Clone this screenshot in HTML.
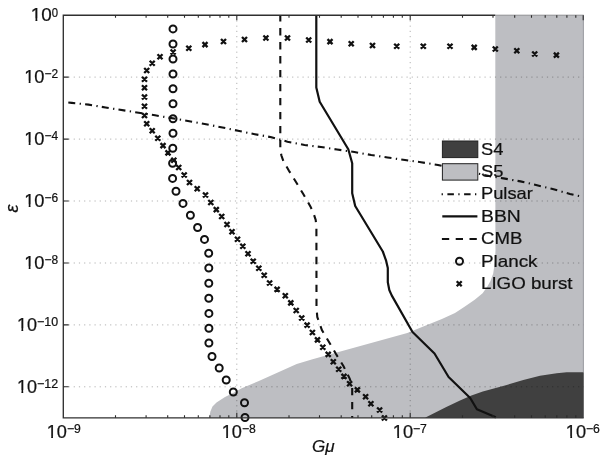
<!DOCTYPE html><html><head><meta charset="utf-8"><style>html,body{margin:0;padding:0;background:#fff;}svg{display:block;}text{font-family:"Liberation Sans",Arial,Helvetica,sans-serif;fill:#111;stroke:#111;stroke-width:0.22px;}</style></head><body>
<svg width="600" height="456" viewBox="0 0 600 456">
<rect width="600" height="456" fill="#fff"/>
<polygon points="495.3,15.2 583.7,15.2 583.7,417.8 209.2,417.8 210.4,411.5 212.5,406.5 216.5,402.5 225.0,397.0 235.0,391.9 241.7,388.2 258.3,381.2 275.0,373.8 296.7,364.0 311.7,359.4 325.0,355.8 407.3,332.9 423.3,326.5 441.9,319.0 455.0,313.0 464.9,306.5 474.7,299.8 482.6,293.3 487.2,286.7 490.5,281.0 493.2,273.5 494.9,262.0 495.5,250.0 495.4,240.0" fill="#bdbec2"/>
<polygon points="425.0,417.8 446.3,407.0 460.0,400.4 471.4,395.5 482.8,391.6 506.7,385.0 523.3,380.0 540.0,375.8 556.7,373.3 566.7,372.3 583.7,372.3 583.7,417.8" fill="#404040"/>
<line x1="236.8" y1="15.2" x2="236.8" y2="417.8" stroke="#000" stroke-opacity="0.3" stroke-width="1" stroke-dasharray="1.2 4"/>
<line x1="410.2" y1="15.2" x2="410.2" y2="417.8" stroke="#000" stroke-opacity="0.3" stroke-width="1" stroke-dasharray="1.2 4"/>
<line x1="63.3" y1="77.1" x2="583.7" y2="77.1" stroke="#000" stroke-opacity="0.3" stroke-width="1" stroke-dasharray="1.2 4"/>
<line x1="63.3" y1="139.1" x2="583.7" y2="139.1" stroke="#000" stroke-opacity="0.3" stroke-width="1" stroke-dasharray="1.2 4"/>
<line x1="63.3" y1="201.0" x2="583.7" y2="201.0" stroke="#000" stroke-opacity="0.3" stroke-width="1" stroke-dasharray="1.2 4"/>
<line x1="63.3" y1="263.0" x2="583.7" y2="263.0" stroke="#000" stroke-opacity="0.3" stroke-width="1" stroke-dasharray="1.2 4"/>
<line x1="63.3" y1="324.9" x2="583.7" y2="324.9" stroke="#000" stroke-opacity="0.3" stroke-width="1" stroke-dasharray="1.2 4"/>
<line x1="63.3" y1="386.8" x2="583.7" y2="386.8" stroke="#000" stroke-opacity="0.3" stroke-width="1" stroke-dasharray="1.2 4"/>
<polyline points="68.3,102.5 71.8,102.9 88.6,104.6 105.5,107.5 155.0,115.3 184.5,120.3 206.0,124.2 222.5,127.5 238.0,130.8 254.8,134.2 271.5,137.2 287.5,141.7 304.5,145.0 321.0,147.0 337.0,149.5 354.4,152.0 371.2,155.0 387.5,157.5 405.0,160.0 421.0,162.2 438.0,165.0 489.0,176.0 503.5,178.4 520.5,181.4 536.0,185.0 552.7,189.0 570.0,194.0 583.0,197.0" fill="none" stroke="#111" stroke-width="2.1" stroke-dasharray="7 4.4 1.3 4.2"/>
<polyline points="316.3,15.2 316.3,87.5 319.7,101.7 348.3,149.2 352.2,163.3 352.2,193.3 355.2,206.0 382.8,251.5 386.0,260.3 387.8,268.0 387.8,282.2 389.3,290.0 391.7,295.4 412.5,332.0 434.5,353.5 448.6,377.0 470.2,398.0 476.9,409.2 494.6,416.8 495.8,417.4" fill="none" stroke="#111" stroke-width="2.2" stroke-linejoin="round"/>
<polyline points="280.3,15.2 280.3,150.0 281.4,155.5 283.5,161.4 288.8,170.5 296.3,182.5 303.4,194.3 310.4,206.4 313.6,213.5 315.7,220.0 316.4,227.0 316.5,308.0 317.3,317.0 321.9,330.1 329.3,342.5 336.0,354.0 343.4,366.0 349.8,378.9 352.2,386.5 352.2,417.8" fill="none" stroke="#111" stroke-width="2.1" stroke-dasharray="7.35 6.63" stroke-dashoffset="1.1"/>
<circle cx="173.0" cy="28.9" r="3.5" fill="none" stroke="#111" stroke-width="2"/>
<circle cx="173.0" cy="44.0" r="3.5" fill="none" stroke="#111" stroke-width="2"/>
<circle cx="173.0" cy="59.0" r="3.5" fill="none" stroke="#111" stroke-width="2"/>
<circle cx="173.0" cy="74.0" r="3.5" fill="none" stroke="#111" stroke-width="2"/>
<circle cx="173.0" cy="88.7" r="3.5" fill="none" stroke="#111" stroke-width="2"/>
<circle cx="173.0" cy="103.7" r="3.5" fill="none" stroke="#111" stroke-width="2"/>
<circle cx="173.0" cy="118.7" r="3.5" fill="none" stroke="#111" stroke-width="2"/>
<circle cx="173.0" cy="133.3" r="3.5" fill="none" stroke="#111" stroke-width="2"/>
<circle cx="172.8" cy="148.2" r="3.5" fill="none" stroke="#111" stroke-width="2"/>
<circle cx="172.6" cy="163.3" r="3.5" fill="none" stroke="#111" stroke-width="2"/>
<circle cx="172.6" cy="178.4" r="3.5" fill="none" stroke="#111" stroke-width="2"/>
<circle cx="176.0" cy="191.3" r="3.5" fill="none" stroke="#111" stroke-width="2"/>
<circle cx="183.0" cy="203.4" r="3.5" fill="none" stroke="#111" stroke-width="2"/>
<circle cx="190.4" cy="215.3" r="3.5" fill="none" stroke="#111" stroke-width="2"/>
<circle cx="197.6" cy="227.5" r="3.5" fill="none" stroke="#111" stroke-width="2"/>
<circle cx="204.5" cy="239.4" r="3.5" fill="none" stroke="#111" stroke-width="2"/>
<circle cx="208.7" cy="253.2" r="3.5" fill="none" stroke="#111" stroke-width="2"/>
<circle cx="208.8" cy="268.0" r="3.5" fill="none" stroke="#111" stroke-width="2"/>
<circle cx="208.8" cy="283.3" r="3.5" fill="none" stroke="#111" stroke-width="2"/>
<circle cx="208.8" cy="298.3" r="3.5" fill="none" stroke="#111" stroke-width="2"/>
<circle cx="208.9" cy="313.4" r="3.5" fill="none" stroke="#111" stroke-width="2"/>
<circle cx="208.9" cy="328.3" r="3.5" fill="none" stroke="#111" stroke-width="2"/>
<circle cx="208.9" cy="343.0" r="3.5" fill="none" stroke="#111" stroke-width="2"/>
<circle cx="212.0" cy="356.5" r="3.5" fill="none" stroke="#111" stroke-width="2"/>
<circle cx="219.2" cy="368.0" r="3.5" fill="none" stroke="#111" stroke-width="2"/>
<circle cx="226.2" cy="380.0" r="3.5" fill="none" stroke="#111" stroke-width="2"/>
<circle cx="233.3" cy="392.0" r="3.5" fill="none" stroke="#111" stroke-width="2"/>
<circle cx="244.5" cy="402.8" r="3.5" fill="none" stroke="#111" stroke-width="2"/>
<circle cx="245.0" cy="417.5" r="3.5" fill="none" stroke="#111" stroke-width="2"/>
<path d="M553.9 52.6L558.9 57.6M553.9 57.6L558.9 52.6M532.2 51.5L537.2 56.5M532.2 56.5L537.2 51.5M514.3 48.2L519.3 53.2M514.3 53.2L519.3 48.2M492.8 46.5L497.8 51.5M492.8 51.5L497.8 46.5M471.7 44.9L476.7 49.9M471.7 49.9L476.7 44.9M447.5 43.7L452.5 48.7M447.5 48.7L452.5 43.7M420.8 43.7L425.8 48.7M420.8 48.7L425.8 43.7M394.2 43.7L399.2 48.7M394.2 48.7L399.2 43.7M370.0 43.0L375.0 48.0M370.0 48.0L375.0 43.0M348.7 41.2L353.7 46.2M348.7 46.2L353.7 41.2M327.5 39.1L332.5 44.1M327.5 44.1L332.5 39.1M306.2 37.5L311.2 42.5M306.2 42.5L311.2 37.5M285.0 35.5L290.0 40.5M285.0 40.5L290.0 35.5M263.4 35.5L268.4 40.5M263.4 40.5L268.4 35.5M242.0 37.0L247.0 42.0M242.0 42.0L247.0 37.0M221.0 39.0L226.0 44.0M221.0 44.0L226.0 39.0M202.5 42.1L207.5 47.1M202.5 47.1L207.5 42.1M186.3 45.7L191.3 50.7M186.3 50.7L191.3 45.7M170.6 49.5L175.6 54.5M170.6 54.5L175.6 49.5M157.5 54.2L162.5 59.2M157.5 59.2L162.5 54.2M149.7 60.7L154.7 65.7M149.7 65.7L154.7 60.7M144.2 68.0L149.2 73.0M144.2 73.0L149.2 68.0M142.0 76.7L147.0 81.7M142.0 81.7L147.0 76.7M142.0 85.2L147.0 90.2M142.0 90.2L147.0 85.2M142.0 94.5L147.0 99.5M142.0 99.5L147.0 94.5M142.0 103.7L147.0 108.7M142.0 108.7L147.0 103.7M142.0 113.0L147.0 118.0M142.0 118.0L147.0 113.0M144.2 121.2L149.2 126.2M144.2 126.2L149.2 121.2M149.7 128.3L154.7 133.3M149.7 133.3L154.7 128.3M155.3 135.8L160.3 140.8M155.3 140.8L160.3 135.8M160.5 143.1L165.5 148.1M160.5 148.1L165.5 143.1M165.5 150.4L170.5 155.4M165.5 155.4L170.5 150.4M171.3 157.8L176.3 162.8M171.3 162.8L176.3 157.8M176.2 165.0L181.2 170.0M176.2 170.0L181.2 165.0M181.7 172.5L186.7 177.5M181.7 177.5L186.7 172.5M187.0 180.0L192.0 185.0M187.0 185.0L192.0 180.0M194.7 186.2L199.7 191.2M194.7 191.2L199.7 186.2M203.0 192.5L208.0 197.5M203.0 197.5L208.0 192.5M208.3 200.0L213.3 205.0M208.3 205.0L213.3 200.0M213.8 207.1L218.8 212.1M213.8 212.1L218.8 207.1M219.2 214.0L224.2 219.0M219.2 219.0L224.2 214.0M224.5 222.0L229.5 227.0M224.5 227.0L229.5 222.0M229.5 229.2L234.5 234.2M229.5 234.2L234.5 229.2M235.0 236.7L240.0 241.7M235.0 241.7L240.0 236.7M240.3 243.8L245.3 248.8M240.3 248.8L245.3 243.8M245.5 251.2L250.5 256.2M245.5 256.2L250.5 251.2M250.7 258.7L255.7 263.7M250.7 263.7L255.7 258.7M256.3 265.8L261.3 270.8M256.3 270.8L261.3 265.8M261.7 272.8L266.7 277.8M261.7 277.8L266.7 272.8M267.1 280.5L272.1 285.5M267.1 285.5L272.1 280.5M274.6 286.9L279.6 291.9M274.6 291.9L279.6 286.9M282.8 293.3L287.8 298.3M282.8 298.3L287.8 293.3M288.3 300.4L293.3 305.4M288.3 305.4L293.3 300.4M293.7 308.0L298.7 313.0M293.7 313.0L298.7 308.0M299.2 315.5L304.2 320.5M299.2 320.5L304.2 315.5M304.6 322.6L309.6 327.6M304.6 327.6L309.6 322.6M309.9 330.0L314.9 335.0M309.9 335.0L314.9 330.0M315.0 337.4L320.0 342.4M315.0 342.4L320.0 337.4M320.3 344.7L325.3 349.7M320.3 349.7L325.3 344.7M325.7 351.9L330.7 356.9M325.7 356.9L330.7 351.9M330.8 359.2L335.8 364.2M330.8 364.2L335.8 359.2M336.2 366.7L341.2 371.7M336.2 371.7L341.2 366.7M341.5 373.9L346.5 378.9M341.5 378.9L346.5 373.9M347.1 381.3L352.1 386.3M347.1 386.3L352.1 381.3M354.9 387.4L359.9 392.4M354.9 392.4L359.9 387.4M363.1 394.2L368.1 399.2M363.1 399.2L368.1 394.2M368.4 401.3L373.4 406.3M368.4 406.3L373.4 401.3M377.1 407.5L382.1 412.5M377.1 412.5L382.1 407.5M381.9 415.5L386.9 420.5M381.9 420.5L386.9 415.5" stroke="#111" stroke-width="2.3" fill="none"/>
<path d="M495.3 15.2H63.3V417.8H583.7" stroke="#303030" stroke-width="1.35" fill="none"/>
<line x1="495.3" y1="15.2" x2="583.7" y2="15.2" stroke="#8d8e91" stroke-width="1"/>
<line x1="583.4" y1="15.2" x2="583.4" y2="372.3" stroke="#909195" stroke-width="0.8"/>
<path d="M115.5 417.8v-2.6M115.5 15.2v2.6M146.1 417.8v-2.6M146.1 15.2v2.6M167.7 417.8v-2.6M167.7 15.2v2.6M184.5 417.8v-2.6M184.5 15.2v2.6M198.3 417.8v-2.6M198.3 15.2v2.6M209.9 417.8v-2.6M209.9 15.2v2.6M220.0 417.8v-2.6M220.0 15.2v2.6M228.8 417.8v-2.6M228.8 15.2v2.6M236.8 417.8v-5M236.8 15.2v5M289.0 417.8v-2.6M289.0 15.2v2.6M319.5 417.8v-2.6M319.5 15.2v2.6M341.2 417.8v-2.6M341.2 15.2v2.6M358.0 417.8v-2.6M358.0 15.2v2.6M371.7 417.8v-2.6M371.7 15.2v2.6M383.4 417.8v-2.6M383.4 15.2v2.6M393.4 417.8v-2.6M393.4 15.2v2.6M402.3 417.8v-2.6M402.3 15.2v2.6M410.2 417.8v-5M410.2 15.2v5M462.5 417.8v-2.6M462.5 15.2v2.6M493.0 417.8v-2.6M493.0 15.2v2.6M514.7 417.8v-2.6M514.7 15.2v2.6M531.5 417.8v-2.6M531.5 15.2v2.6M545.2 417.8v-2.6M545.2 15.2v2.6M556.8 417.8v-2.6M556.8 15.2v2.6M566.9 417.8v-2.6M566.9 15.2v2.6M575.8 417.8v-2.6M575.8 15.2v2.6M583.2 15.2v5M63.3 386.8h5.4M63.3 324.9h5.4M63.3 263.0h5.4M63.3 201.0h5.4M63.3 139.1h5.4M63.3 77.1h5.4" stroke="#2a2a2a" stroke-width="1.1" fill="none"/>
<rect x="442.4" y="141" width="35.4" height="16.6" fill="#404040" stroke="#222" stroke-width="1"/>
<rect x="442.4" y="163.7" width="35.4" height="16.4" fill="#bdbec2" stroke="#222" stroke-width="1"/>
<line x1="441.6" y1="194.2" x2="477.4" y2="194.2" stroke="#111" stroke-width="2.1" stroke-dasharray="1.3 4.5 6.5 4.4" />
<line x1="442.3" y1="216.3" x2="477.4" y2="216.3" stroke="#111" stroke-width="2.2"/>
<line x1="441.9" y1="239" x2="477.4" y2="239" stroke="#111" stroke-width="2.1" stroke-dasharray="7.3 6.5"/>
<circle cx="459.5" cy="261.3" r="3.5" fill="none" stroke="#111" stroke-width="2"/>
<path d="M456.7 281.3l5 5M456.7 286.3l5 -5" stroke="#111" stroke-width="2.3"/>
<text x="481" y="155.0" font-size="17" textLength="22.4" lengthAdjust="spacingAndGlyphs">S4</text>
<text x="481" y="177.2" font-size="17" textLength="22.4" lengthAdjust="spacingAndGlyphs">S5</text>
<text x="481" y="199.0" font-size="17" textLength="51.8" lengthAdjust="spacingAndGlyphs">Pulsar</text>
<text x="481" y="221.6" font-size="17" textLength="39.8" lengthAdjust="spacingAndGlyphs">BBN</text>
<text x="481" y="243.8" font-size="17" textLength="41.3" lengthAdjust="spacingAndGlyphs">CMB</text>
<text x="481" y="266.7" font-size="17" textLength="56.5" lengthAdjust="spacingAndGlyphs">Planck</text>
<text x="481" y="288.5" font-size="17" textLength="91.5" lengthAdjust="spacingAndGlyphs">LIGO burst</text>
<text x="30.8" y="21.0" font-size="18" textLength="21.0" lengthAdjust="spacingAndGlyphs">10</text>
<path d="M31.63 18.60H35.46V22.30H31.63ZM37.33 18.60H41.22V22.30H37.33Z" fill="#fff"/>
<text x="51.8" y="16.5" font-size="12.5" textLength="6.3" lengthAdjust="spacingAndGlyphs">0</text>
<text x="24.2" y="83.0" font-size="18" textLength="20.3" lengthAdjust="spacingAndGlyphs">10</text>
<path d="M25.00 80.64H28.70V84.34H25.00ZM30.51 80.64H34.27V84.34H30.51Z" fill="#fff"/>
<text x="44.5" y="78.4" font-size="12.5" textLength="13.6" lengthAdjust="spacingAndGlyphs">−2</text>
<text x="24.2" y="145.0" font-size="18" textLength="20.3" lengthAdjust="spacingAndGlyphs">10</text>
<path d="M25.00 142.58H28.70V146.28H25.00ZM30.51 142.58H34.27V146.28H30.51Z" fill="#fff"/>
<text x="44.5" y="140.4" font-size="12.5" textLength="13.6" lengthAdjust="spacingAndGlyphs">−4</text>
<text x="24.2" y="206.9" font-size="18" textLength="20.3" lengthAdjust="spacingAndGlyphs">10</text>
<path d="M25.00 204.52H28.70V208.22H25.00ZM30.51 204.52H34.27V208.22H30.51Z" fill="#fff"/>
<text x="44.5" y="202.3" font-size="12.5" textLength="13.6" lengthAdjust="spacingAndGlyphs">−6</text>
<text x="24.2" y="268.9" font-size="18" textLength="20.3" lengthAdjust="spacingAndGlyphs">10</text>
<path d="M25.00 266.45H28.70V270.15H25.00ZM30.51 266.45H34.27V270.15H30.51Z" fill="#fff"/>
<text x="44.5" y="264.3" font-size="12.5" textLength="13.6" lengthAdjust="spacingAndGlyphs">−8</text>
<text x="17.0" y="330.8" font-size="18" textLength="20.0" lengthAdjust="spacingAndGlyphs">10</text>
<path d="M17.79 328.39H21.43V332.09H17.79ZM23.22 328.39H26.92V332.09H23.22Z" fill="#fff"/>
<text x="37.1" y="326.2" font-size="12.5" textLength="21.1" lengthAdjust="spacingAndGlyphs">−10</text>
<text x="17.0" y="392.7" font-size="18" textLength="20.0" lengthAdjust="spacingAndGlyphs">10</text>
<path d="M17.79 390.33H21.43V394.03H17.79ZM23.22 390.33H26.92V394.03H23.22Z" fill="#fff"/>
<text x="37.1" y="388.1" font-size="12.5" textLength="21.1" lengthAdjust="spacingAndGlyphs">−12</text>
<text x="46.7" y="438.4" font-size="18" textLength="20.2" lengthAdjust="spacingAndGlyphs">10</text>
<path d="M47.50 436.00H51.18V439.70H47.50ZM52.98 436.00H56.72V439.70H52.98Z" fill="#fff"/>
<text x="66.9" y="433.0" font-size="12.5" textLength="13.9" lengthAdjust="spacingAndGlyphs">−9</text>
<text x="221.7" y="438.4" font-size="18" textLength="20.2" lengthAdjust="spacingAndGlyphs">10</text>
<path d="M222.50 436.00H226.18V439.70H222.50ZM227.98 436.00H231.72V439.70H227.98Z" fill="#fff"/>
<text x="241.9" y="433.0" font-size="12.5" textLength="13.9" lengthAdjust="spacingAndGlyphs">−8</text>
<text x="392.8" y="438.4" font-size="18" textLength="20.2" lengthAdjust="spacingAndGlyphs">10</text>
<path d="M393.60 436.00H397.28V439.70H393.60ZM399.08 436.00H402.82V439.70H399.08Z" fill="#fff"/>
<text x="413.0" y="433.0" font-size="12.5" textLength="13.9" lengthAdjust="spacingAndGlyphs">−7</text>
<text x="565.8" y="438.4" font-size="18" textLength="20.2" lengthAdjust="spacingAndGlyphs">10</text>
<path d="M566.60 436.00H570.28V439.70H566.60ZM572.08 436.00H575.82V439.70H572.08Z" fill="#fff"/>
<text x="586.0" y="433.0" font-size="12.5" textLength="13.9" lengthAdjust="spacingAndGlyphs">−6</text>
<text x="312" y="452" font-size="17" font-style="italic">Gμ</text>
<text transform="translate(18.2 212.5) rotate(-90)" font-size="18" font-style="italic">ε</text>
</svg></body></html>
